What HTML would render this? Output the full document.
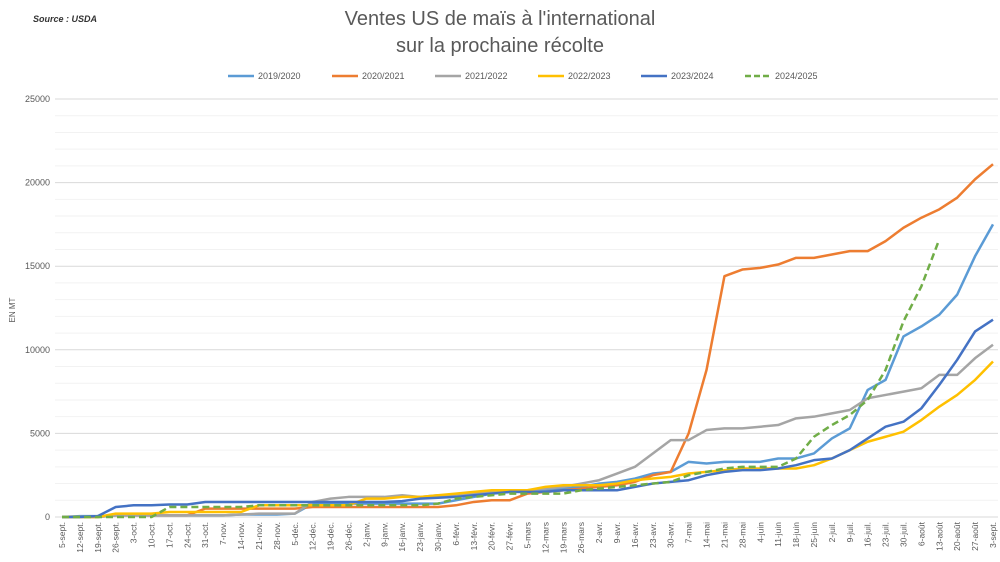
<!DOCTYPE html>
<html><head><meta charset="utf-8"><style>
body{margin:0;background:#fff;font-family:"Liberation Sans",sans-serif}
#c{position:absolute;left:0;top:0}
</style></head><body>
<svg id="c" width="1000" height="562" xmlns="http://www.w3.org/2000/svg">
<text x="33" y="22" font-size="9" font-style="italic" font-weight="bold" fill="#333">Source : USDA</text>
<text x="500" y="25" text-anchor="middle" font-size="20" fill="#595959">Ventes US de maïs à l'international</text>
<text x="500" y="52" text-anchor="middle" font-size="20" fill="#595959">sur la prochaine récolte</text>
<text transform="translate(15,310) rotate(-90)" text-anchor="middle" font-size="8" fill="#595959">EN MT</text>
<g id="grid"></g><g id="yt"></g><g id="xt"></g><g id="lines"></g><g id="legend"></g>
</svg>
<script>
const categories=["5-sept.","12-sept.","19-sept.","26-sept.","3-oct.","10-oct.","17-oct.","24-oct.","31-oct.","7-nov.","14-nov.","21-nov.","28-nov.","5-déc.","12-déc.","19-déc.","26-déc.","2-janv.","9-janv.","16-janv.","23-janv.","30-janv.","6-févr.","13-févr.","20-févr.","27-févr.","5-mars","12-mars","19-mars","26-mars","2-avr.","9-avr.","16-avr.","23-avr.","30-avr.","7-mai","14-mai","21-mai","28-mai","4-juin","11-juin","18-juin","25-juin","2-juil.","9-juil.","16-juil.","23-juil.","30-juil.","6-août","13-août","20-août","27-août","3-sept."];
const yTicks=[0,5000,10000,15000,20000,25000];
const seriesNames=["2019/2020","2020/2021","2021/2022","2022/2023","2023/2024","2024/2025"];
const s2019=[0,0.05,0.05,0.1,0.1,0.1,0.1,0.1,0.1,0.1,0.15,0.15,0.15,0.2,0.8,0.8,0.8,0.8,0.8,0.8,0.8,0.8,1.0,1.2,1.4,1.5,1.5,1.6,1.7,1.8,2.0,2.1,2.3,2.6,2.7,3.3,3.2,3.3,3.3,3.3,3.5,3.5,3.8,4.7,5.3,7.6,8.2,10.8,11.4,12.1,13.3,15.6,17.5];
const s2020=[0,0,0,0.1,0.1,0.1,0.1,0.1,0.5,0.5,0.5,0.5,0.5,0.5,0.6,0.6,0.6,0.6,0.6,0.6,0.6,0.6,0.7,0.9,1.0,1.0,1.4,1.5,1.6,1.7,1.8,1.9,2.1,2.5,2.7,5.0,8.8,14.4,14.8,14.9,15.1,15.5,15.5,15.7,15.9,15.9,16.5,17.3,17.9,18.4,19.1,20.2,21.1];
const s2021=[0,0,0,0.1,0.1,0.1,0.1,0.1,0.1,0.1,0.15,0.2,0.2,0.2,0.9,1.1,1.2,1.2,1.2,1.3,1.2,1.3,1.3,1.4,1.5,1.6,1.6,1.7,1.8,2.0,2.2,2.6,3.0,3.8,4.6,4.6,5.2,5.3,5.3,5.4,5.5,5.9,6.0,6.2,6.4,7.1,7.3,7.5,7.7,8.5,8.5,9.5,10.3];
const s2022=[0,0,0,0.2,0.2,0.2,0.3,0.3,0.3,0.3,0.3,0.7,0.7,0.7,0.7,0.7,0.7,1.1,1.1,1.2,1.2,1.3,1.4,1.5,1.6,1.6,1.6,1.8,1.9,1.9,1.9,2.0,2.2,2.3,2.4,2.6,2.7,2.8,2.9,2.9,2.9,2.9,3.1,3.5,4.0,4.5,4.8,5.1,5.8,6.6,7.3,8.2,9.3];
const s2023=[0,0,0.05,0.6,0.7,0.7,0.75,0.75,0.9,0.9,0.9,0.9,0.9,0.9,0.9,0.9,0.9,0.9,0.9,0.95,1.1,1.15,1.2,1.3,1.4,1.5,1.5,1.5,1.6,1.6,1.6,1.6,1.8,2.0,2.1,2.2,2.5,2.7,2.8,2.8,2.9,3.1,3.4,3.5,4.0,4.7,5.4,5.7,6.5,7.9,9.4,11.1,11.8];
const s2024=[0,0,0,0,0,0,0.6,0.6,0.6,0.6,0.6,0.7,0.7,0.7,0.7,0.7,0.7,0.7,0.7,0.7,0.7,0.8,1.1,1.2,1.3,1.4,1.4,1.4,1.4,1.6,1.7,1.8,1.9,2.0,2.1,2.5,2.7,2.9,3.0,3.0,3.0,3.5,4.8,5.5,6.1,7.0,8.8,11.7,13.8,16.6];
const colors=["#5b9bd5","#ed7d31","#a5a5a5","#ffc000","#4472c4","#70ad47"];
const NS="http://www.w3.org/2000/svg";
const X0=62,X1=993,Y0=517,Y1=99,YMAX=25000;
const xs=i=>X0+(X1-X0)*i/(categories.length-1);
const ys=v=>Y0-(Y0-Y1)*v/YMAX;
function mk(t,a,p){const e=document.createElementNS(NS,t);for(const k in a)e.setAttribute(k,a[k]);document.getElementById(p).appendChild(e);return e;}
for(let v=0;v<=YMAX;v+=1000){
 const l=mk("line",{x1:55,x2:X1+5,y1:ys(v),y2:ys(v),stroke:v%5000?"#f2f2f2":"#d9d9d9","stroke-width":1},"grid");
 
 
}
yTicks.forEach(v=>{const t=mk("text",{x:50,y:ys(v)+3,"text-anchor":"end","font-size":9,fill:"#595959"},"yt");t.textContent=v;
 
 });
categories.forEach((c,i)=>{const t=mk("text",{transform:`translate(${xs(i)+3},522) rotate(-90)`,"text-anchor":"end","font-size":8.5,fill:"#595959"},"xt");t.textContent=c;
 
 });
const all=[s2019,s2020,s2021,s2022,s2023,s2024];
all.forEach((s,k)=>{
 const p=mk("polyline",{points:s.map((v,i)=>xs(i)+","+ys(v*1000)).join(" "),fill:"none",stroke:colors[k],"stroke-width":2.5,"stroke-linejoin":"round","stroke-dasharray":k==5?"7,4":"none"},"lines");
 
 
});
const lx=[228,332,435,538,641,745];
seriesNames.forEach((n,k)=>{
 const l=mk("line",{x1:lx[k],x2:lx[k]+26,y1:76,y2:76,stroke:colors[k],"stroke-width":2.5,"stroke-dasharray":k==5?"6,3":"none"},"legend");
 
 
 const t=mk("text",{x:lx[k]+30,y:79,"font-size":9,fill:"#595959"},"legend");t.textContent=n;
 
 
});
</script>
</body></html>
